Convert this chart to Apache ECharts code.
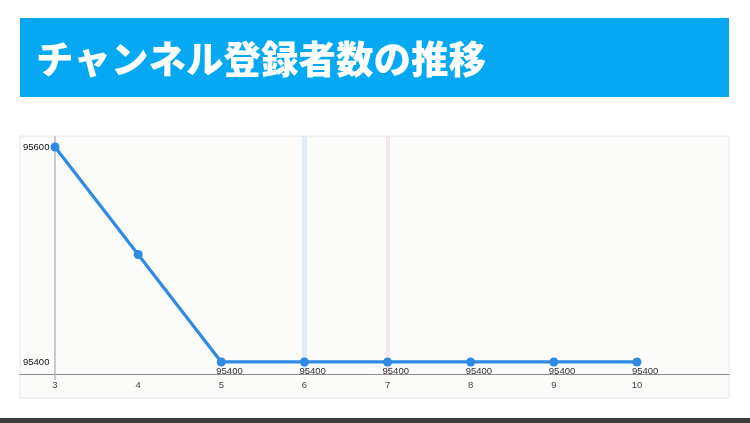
<!DOCTYPE html>
<html>
<head>
<meta charset="utf-8">
<script src="https://cdn.jsdelivr.net/npm/echarts@6/dist/echarts.min.js"></script>
<style>
html,body{margin:0;padding:0;background:#fff;}
#chart{width:750px;height:423px;}
</style>
</head>
<body>
<div id="chart"></div>
<script>
const title = 'チャンネル登録者数の推移';
const xValues = [3, 4, 5, 6, 7, 8, 9, 10];
const subscribers = [95600, 95500, 95400, 95400, 95400, 95400, 95400, 95400];
const showLabel = [false, false, true, true, true, true, true, true];
const xTickLabels = [3, 4, 5, 6, 7, 8, 9, 10];
const yTickLabels = [95400, 95600];
const highlightBlue = 6;
const highlightPink = 7;

const chart = echarts.init(document.getElementById('chart'), null, {renderer: 'canvas'});
const font = '"Liberation Sans", Arial, sans-serif';

const seriesData = xValues.map((x, i) => ({
  value: [x, subscribers[i]],
  label: {show: showLabel[i]}
}));

chart.setOption({
  animation: false,
  backgroundColor: '#ffffff',
  graphic: [
    {type: 'rect', shape: {x: 20, y: 18, width: 709, height: 79}, style: {fill: '#05a8f2'}, z: 0},
    {type: 'text', x: 36, y: 59, style: {text: title, fill: '#ffffff', font: '900 37.5px "Noto Sans CJK JP", sans-serif', textVerticalAlign: 'middle', verticalAlign: 'middle'}, z: 1},
    {type: 'rect', shape: {x: 20, y: 136, width: 709, height: 262}, style: {fill: '#fbfcfa', stroke: '#e4e4e4', lineWidth: 1}, z: -1},
    {type: 'rect', shape: {x: 0, y: 418, width: 750, height: 5}, style: {fill: '#3a3a3a'}, z: 0}
  ],
  grid: {left: 20, right: 21, top: 136, bottom: 49, containLabel: false},
  xAxis: {
    type: 'value',
    min: 2.579,
    max: 11.107,
    splitLine: {show: false},
    axisLine: {show: true, onZero: false, lineStyle: {color: '#8c8c8c', width: 1}},
    axisTick: {show: true, customValues: [3], length: 6, lineStyle: {color: '#bdb5c8', width: 1.5}},
    axisLabel: {customValues: xTickLabels, color: '#444', fontSize: 9.5, fontFamily: font, margin: 6}
  },
  yAxis: {
    type: 'value',
    min: 95388.8,
    max: 95610.2,
    splitLine: {show: false},
    axisLine: {show: false},
    axisTick: {show: false},
    axisLabel: {customValues: yTickLabels, inside: true, margin: 3, color: '#111', fontSize: 9.5, fontFamily: font, formatter: v => String(v)}
  },
  series: [{
    type: 'line',
    data: seriesData,
    symbol: 'circle',
    symbolSize: 9,
    lineStyle: {color: '#2e8ae2', width: 3.2},
    itemStyle: {color: '#2e8ae2'},
    label: {
      position: 'bottom',
      distance: 0,
      align: 'left',
      offset: [-5, 0],
      color: '#333',
      fontSize: 9.5,
      fontFamily: font
    },
    markLine: {
      silent: true,
      symbol: 'none',
      label: {show: false},
      z: 1,
      data: [
        {xAxis: 3, lineStyle: {color: '#bdb5c8', width: 1.5, type: 'solid'}},
        {xAxis: highlightBlue, lineStyle: {color: '#e2ecf4', width: 5, type: 'solid'}},
        {xAxis: highlightPink, lineStyle: {color: '#fbe3ec', width: 4, type: 'solid'}}
      ]
    },
    z: 3
  }]
});
</script>
</body>
</html>
